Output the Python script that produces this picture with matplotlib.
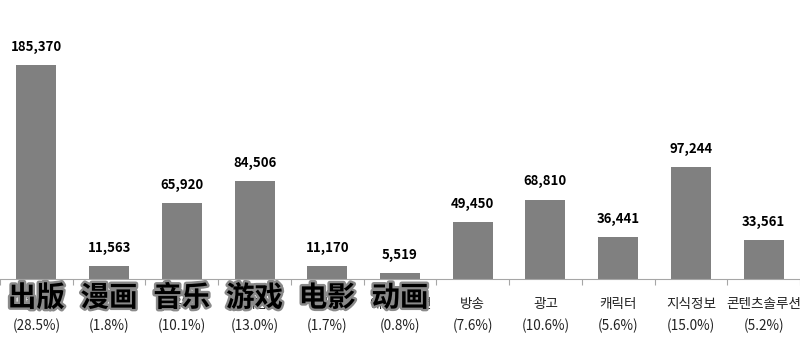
import matplotlib
matplotlib.use("Agg")
import matplotlib.pyplot as plt
import matplotlib.patheffects as pe
import numpy as np

plt.rcParams['font.family'] = ['Noto Sans CJK KR', 'DejaVu Sans']

# 数据
categories_kr = ["출판", "만화", "음악", "게임", "영화", "애니메이션",
                 "방송", "광고", "캐릭터", "지식정보", "콘텐츠솔루션"]
categories_cn = ["出版", "漫画", "音乐", "游戏", "电影", "动画"]
values = [185370, 11563, 65920, 84506, 11170, 5519,
          49450, 68810, 36441, 97244, 33561]
shares = ["28.5%", "1.8%", "10.1%", "13.0%", "1.7%", "0.8%",
          "7.6%", "10.6%", "5.6%", "15.0%", "5.2%"]

fig = plt.figure(figsize=(8, 3.38), dpi=100)
ax = fig.add_axes([0.0, 0.1746, 1.0, 0.7664])

x = np.arange(len(values))
ax.bar(x, values, width=0.55, color="#808080")
ax.set_xlim(-0.5, len(values) - 0.5)
ax.set_ylim(0, 185370 * 259 / 214)

for xi, v in zip(x, values):
    ax.annotate(f"{v:,}", (xi, v), xytext=(0, 8), textcoords="offset points",
                ha="center", va="bottom", fontsize=9.5, fontweight="bold")

# 底部标签（韩文原标签 + 占比）
for xi, kr, pct in zip(x, categories_kr, shares):
    ax.annotate(kr, (xi, 0), xytext=(0, -18), textcoords="offset points",
                ha="center", va="center", fontsize=9.8, color="#222222")
    ax.annotate(f"({pct})", (xi, 0), xytext=(0, -34), textcoords="offset points",
                ha="center", va="center", fontsize=9.8, color="#222222")

# 中文覆盖标签
for xi, cn in zip(x, categories_cn):
    ax.annotate(cn, (xi, 0), xytext=(0, -14), textcoords="offset points",
                ha="center", va="center", fontsize=20.5, fontweight="bold",
                family=['Noto Sans CJK SC', 'DejaVu Sans'], color="black",
                path_effects=[pe.withStroke(linewidth=3.5, foreground="#8a8a8a")])

for s in ["top", "left", "right"]:
    ax.spines[s].set_visible(False)
ax.spines["bottom"].set_color("#a6a6a6")
ax.set_yticks([])
ax.set_xticks(np.arange(-0.5, len(values), 1.0))
ax.set_xticklabels([])
ax.tick_params(axis="x", length=4, color="#a6a6a6", direction="out")

fig.savefig("out.png", dpi=100)
plt.close(fig)
